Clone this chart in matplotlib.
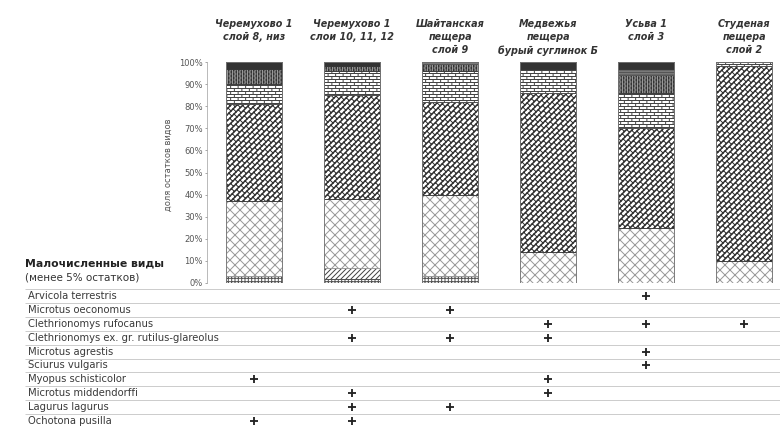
import warnings
import numpy as np
import matplotlib
matplotlib.use("Agg")
import matplotlib.pyplot as plt
from matplotlib import hatch as mhatch
from matplotlib import transforms
from matplotlib.path import Path

warnings.filterwarnings("ignore")

sites = ["Черемухово 1\nслой 8, низ", "Черемухово 1\nслои 10, 11, 12",
         "Шайтанская\nпещера\nслой 9", "Медвежья\nпещера\nбурый суглинок Б",
         "Усьва 1\nслой 3", "Студеная\nпещера\nслой 2"]

# доли остатков видов, %, снизу вверх
share_a = [3, 2, 3, 0, 0, 0]
share_b = [0, 5, 0, 0, 0, 0]
share_c = [34, 31, 37, 14, 25, 10]
share_d = [44, 47, 42, 72, 45, 88]
share_e = [9, 11, 14, 11, 16, 2]
share_f = [7, 2, 3, 0, 8, 0]
share_h = [0, 0, 1, 0, 3, 0]
share_g = [3, 2, 0, 3, 3, 0]

rare = ["Arvicola terrestris", "Microtus oeconomus", "Clethrionomys rufocanus",
        "Clethrionomys ex. gr. rutilus-glareolus", "Microtus agrestis",
        "Sciurus vulgaris", "Myopus schisticolor", "Microtus middendorffi",
        "Lagurus lagurus", "Ochotona pusilla"]
presence = [
    [0, 0, 0, 0, 1, 0],
    [0, 1, 1, 0, 0, 0],
    [0, 0, 0, 1, 1, 1],
    [0, 1, 1, 1, 0, 0],
    [0, 0, 0, 0, 1, 0],
    [0, 0, 0, 0, 1, 0],
    [1, 0, 0, 1, 0, 0],
    [0, 1, 0, 1, 0, 0],
    [0, 1, 1, 0, 0, 0],
    [1, 1, 0, 0, 0, 0],
]


# кирпичные штриховки
class SegmentHatch(mhatch.HatchPatternBase):
    symbol = ""

    def __init__(self, hatch, density):
        n = hatch.count(self.symbol)
        segs = np.asarray(self.segments(n), float) if n else np.empty((0, 2, 2))
        self.segs = segs.reshape(-1, 2, 2)
        self.num_vertices = 2 * len(self.segs)

    def set_vertices_and_codes(self, vertices, codes):
        vertices[:] = self.segs.reshape(-1, 2)
        codes[0::2] = Path.MOVETO
        codes[1::2] = Path.LINETO


class BrickHatch(SegmentHatch):
    symbol = "b"

    def segments(self, n):
        rows, cols = 10 * n, 4 * n
        segs = []
        for r in range(-1, rows):
            y0, y1 = (r + 0.5) / rows, (r + 1.5) / rows
            segs.append([[0, y0], [1, y0]])
            shift = 0.25 if r % 2 else 0.75
            for c in range(cols):
                x = (c + shift) / cols
                segs.append([[x, y0], [x, y1]])
        return segs


class DiagonalBrickHatch(SegmentHatch):
    symbol = "d"

    def segments(self, n):
        lanes, steps = 10 * n, 7 * n

        def xy(c, q):
            return [(q + c) / 2, (q - c) / 2]

        segs = []
        for k in range(-lanes - 1, lanes + 1):
            c0, c1 = k / lanes, (k + 1) / lanes
            for dc in (-0.004, 0.004):
                segs.append([xy(c0 + dc, -0.1), xy(c0 + dc, 2.1)])
            for j in range(-1, 2 * steps + 2):
                q = (j + 0.5 * (k % 2)) / steps
                segs.append([xy(c0, q), xy(c1, q)])
        return segs


mhatch._hatch_types.extend([BrickHatch, DiagonalBrickHatch])
plt.rcParams["hatch.linewidth"] = 1.2

# (заливка, цвет штриховки, штриховка)
styles = [
    ("white", "#555555", "+++"),
    ("white", "#444444", "////"),
    ("white", "#9a9a9a", "xx"),
    ("white", "#2e2e2e", "d"),
    ("white", "#444444", "bb"),
    ("white", "#333333", "bbb"),
    ("#8c8c8c", "#555555", "------"),
    ("#333333", "#333333", None),
]
series = [share_a, share_b, share_c, share_d, share_e, share_f, share_h, share_g]

W, H = 780, 429
fig = plt.figure(figsize=(13, 7.15), dpi=60)
ax = fig.add_axes([207 / W, 1 - 283 / H, 573 / W, 221 / H])
x = np.arange(len(sites))
width = 0.57

bottom = np.zeros(len(sites))
for vals, (face, hc, hatch) in zip(series, styles):
    vals = np.array(vals, float)
    ax.bar(x, vals, width, bottom=bottom, facecolor=face, edgecolor=hc,
           hatch=hatch, linewidth=1.0)
    bottom += vals
ax.bar(x, bottom, width, facecolor="none", edgecolor="#777777", linewidth=1.0)

ax.set_xlim(-0.48, 5.367)
ax.set_ylim(0, 100)
ax.set_xticks([])
ax.set_yticks(range(0, 101, 10))
ax.set_yticklabels([f"{v}%" for v in range(0, 101, 10)])
ax.tick_params(axis="y", length=3, width=1, color="#999999", labelsize=10,
               labelcolor="#555555", pad=2)
for side in ("top", "right", "bottom"):
    ax.spines[side].set_visible(False)
ax.spines["left"].set_color("#999999")

head = transforms.blended_transform_factory(ax.transData, fig.transFigure)
for i, s in enumerate(sites):
    ax.text(i, 1 - 19 / H, s, transform=head, ha="center", va="top",
            fontsize=11.5, fontweight="bold", style="italic",
            linespacing=1.4, color="#333333")

fig.text(168 / W, 1 - 165 / H, "доля остатков видов", rotation=90,
         ha="center", va="center", fontsize=10, color="#555555")

fig.text(25 / W, 1 - 263 / H, "Малочисленные виды", fontsize=13,
         fontweight="bold", va="center", color="#222222")
fig.text(25 / W, 1 - 278 / H, "(менее 5% остатков)", fontsize=12.5,
         va="center", color="#333333")

# таблица малочисленных видов
tab = fig.add_axes([25 / W, 1 - 428 / H, 755 / W, 139 / H])
tab.set_xlim(-0.48 - 182 / 98, 5.367)
tab.set_ylim(len(rare), 0)
tab.axis("off")
tab.hlines(np.arange(len(rare) + 1), -0.48 - 182 / 98, 5.367,
           color="#c4c4c4", linewidth=1.0)
names = transforms.blended_transform_factory(tab.transAxes, tab.transData)
for i, (name, row) in enumerate(zip(rare, presence)):
    tab.text(0.004, i + 0.5, name, transform=names, va="center",
             fontsize=12, color="#3a3a3a")
    cols = [j for j, v in enumerate(row) if v]
    tab.plot(cols, [i + 0.5] * len(cols), ls="none", marker="+", ms=8.5,
             mew=2.2, color="#222222", clip_on=False)

fig.savefig("out.png", dpi=60)
